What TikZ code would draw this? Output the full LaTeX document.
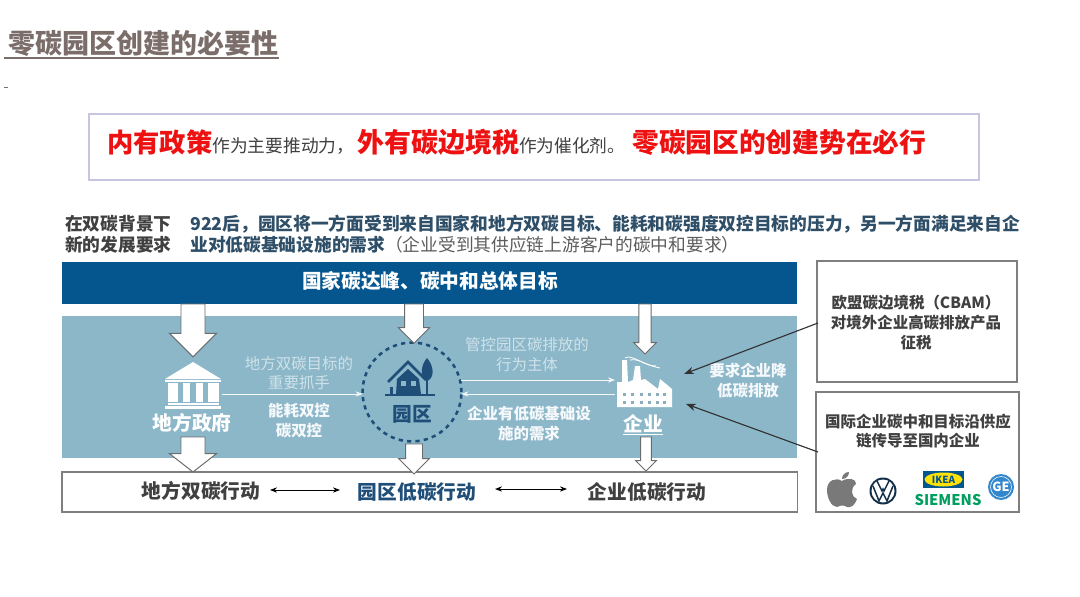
\documentclass[tikz,border=0pt]{standalone}
\usepackage{fontspec}
\setmainfont{Noto Sans CJK SC}
\usepackage{xcolor}
\usetikzlibrary{arrows.meta, positioning, shapes.arrows, calc}

\definecolor{ttlgray}{HTML}{7A6D6A}
\definecolor{txtgray}{HTML}{404040}
\definecolor{subblue}{HTML}{2F4F68}
\definecolor{banblue}{HTML}{05568F}
\definecolor{pnlblue}{HTML}{8BB7C9}
\definecolor{navy}{HTML}{1F4E79}
\definecolor{lightxt}{HTML}{CFE2EA}
\definecolor{hotred}{HTML}{EE1111}
\definecolor{boxgray}{HTML}{7F7F7F}
\definecolor{lavbox}{HTML}{C6C6E0}

\newcommand{\fsz}[2]{\fontsize{#1}{#2}\selectfont}

\begin{document}
\begin{tikzpicture}[
  x=0.025cm, y=-0.025cm,
  node distance=0.1cm and 0.3cm,
  box/.style={rectangle, outer sep=0pt, inner sep=0pt, anchor=north west},
  gbox/.style={box, draw=boxgray, line width=0.8pt, fill=white},
  lbl/.style={inner sep=0pt, align=center, font=\fsz{11}{14}},
  blbl/.style={inner sep=0pt, align=center, font=\fsz{14}{17}\bfseries},
  sublbl/.style={inner sep=0pt, anchor=west, align=left, font=\fsz{12.6}{15}\bfseries},
  bigarr/.style={single arrow, draw=gray!85!black, fill=white, line width=0.7pt,
                 shape border rotate=270, anchor=tail, outer sep=0pt,
                 single arrow head indent=0pt},
  larr/.style={bigarr, inner sep=0.2875cm, single arrow head extend=0.2875cm, minimum height=1.32cm},
  marr/.style={bigarr, inner sep=0.225cm, single arrow head extend=0.15cm, minimum height=0.98cm},
  sarr/.style={bigarr, inner sep=0.14cm, single arrow head extend=0.13cm, minimum height=1.25cm},
  thinw/.style={-{Stealth[length=5pt]}, draw=white!80!lightxt, line width=0.7pt},
  darr/.style={-{Stealth[length=7pt]}, draw=black!80, line width=0.8pt},
  twoarr/.style={{Stealth[length=5pt]}-{Stealth[length=5pt]}, draw=black, line width=0.7pt},
]
\useasboundingbox (0,0) rectangle (1080,597);
\fill[white] (0,0) rectangle (1080,597);

%% ---- Title and headline ----
\node[inner sep=0pt, anchor=west, text=ttlgray, font=\fsz{19.2}{23}\bfseries] (title) at (8,43) {零碳园区创建的必要性};
\coordinate (ulineA) at (4,58);
\coordinate (ulineB) at (279,58);
\draw[ttlgray, line width=1.2pt] (ulineA) -- (ulineB);
\coordinate (tickA) at (4,87);
\coordinate (tickB) at (8,87);
\draw[ttlgray, line width=0.7pt] (tickA) -- (tickB);

\node[box, draw=lavbox, line width=1.4pt, fill=white,
      minimum width=22.25cm, minimum height=1.65cm] (head) at (89,114) {};
\node[inner sep=0pt, anchor=west, font=\fsz{18.7}{23}\bfseries, text=hotred] (headtxt) at (107,142)
  {内有政策{\fsz{12.6}{15}\mdseries\color{txtgray}作为主要推动力，}\hspace{2pt}{\fsz{19.2}{23}外有碳边境税}{\fsz{12.6}{15}\mdseries\color{txtgray}作为催化剂。}\hspace{5pt}{\fsz{19}{23}零碳园区的创建势在必行}};

%% ---- Sub heading ----
\node[sublbl, text=txtgray] (subA) at (65,234.5) {在双碳背景下\\新的发展要求};
\node[sublbl, text=subblue] (subB) at (190,234.5)
  {922后，园区将一方面受到来自国家和地方双碳目标、能耗和碳强度双控目标的压力，另一方面满足来自企\\
   业对低碳基础设施的需求{\mdseries\color{txtgray!85}（企业受到其供应链上游客户的碳中和要求）}};

%% ---- Bands ----
\node[box, fill=banblue, minimum width=18.375cm, minimum height=1.05cm] (band) at (62,262) {};
\node[blbl, text=white] (bandtxt) at (430,281) {国家碳达峰、碳中和总体目标};
\node[box, fill=pnlblue, minimum width=18.375cm, minimum height=3.55cm] (panel) at (62,316) {};
\node[gbox, minimum width=18.375cm, minimum height=1cm] (floor) at (62,472) {};

%% ---- Right side boxes ----
\node[gbox, minimum width=5cm, minimum height=3.025cm] (cbam) at (817,261) {};
\node[gbox, minimum width=5.075cm, minimum height=3cm] (chain) at (816,392) {};
\node[lbl, text=txtgray, font=\fsz{11}{14}\bfseries] (cbamtxt) at (916,322.5) {欧盟碳边境税（CBAM）\\对境外企业高碳排放产品\\征税};
\node[lbl, text=txtgray, font=\fsz{11}{14}\bfseries] (chaintxt) at (918,431) {国际企业碳中和目标沿供应\\链传导至国内企业};

%% ---- Park circle ----
\node[circle, draw=navy, dashed, line width=1.8pt, minimum size=2.47cm, inner sep=0pt, outer sep=0pt] (park) at (412,392) {};
\node[blbl, text=navy] (parktxt) at (412,414) {园区};

%% ---- Block arrows ----
\node[larr] (a1) at (193,304) {};
\node[marr, inner sep=0.225cm] (a2) at (414,304) {};
\node[sarr] (a3) at (645,304) {};
\node[larr, minimum height=0.875cm, single arrow tip angle=104] (a4) at (193,437) {};
\node[marr, inner sep=0.2cm, single arrow head extend=0.175cm, minimum height=0.75cm] (a5) at (414,444) {};
\node[sarr, inner sep=0.12cm, minimum height=0.85cm] (a6) at (646,437) {};

%% ---- Bank icon ----
\fill[white] (193,362) -- (221,379) -- (165,379) -- cycle;
\fill[white] (165,380) rectangle (221,382);
\fill[white] (168,383) rectangle (178,402);
\fill[white] (183,383) rectangle (190,402);
\fill[white] (196,383) rectangle (203,402);
\fill[white] (208,383) rectangle (219,402);
\fill[white] (168,403) rectangle (219,405);
\fill[white] (165,406) rectangle (221,409);
\node[blbl, text=white] (govtxt) at (192,423) {地方政府};
\coordinate (govR) at (222,394);

%% ---- House icon ----
\draw[navy, line width=2pt, line join=miter] (388,382) -- (408,362) -- (426,380);
\fill[navy] (397,379) -- (408,369) -- (419,379) -- (421,394) -- (396,394) -- cycle;
\fill[pnlblue] (401,381) rectangle (406,386);
\fill[pnlblue] (411,381) rectangle (416,386);
\fill[navy] (427,358) .. controls (434,366) and (435,378) .. (427,381) .. controls (420,378) and (420,366) .. (427,358) -- cycle;
\draw[navy, line width=1.2pt] (427,375) -- (427,394);
\fill[navy] (390,387) rectangle (393,394);
\fill[navy] (385,394) rectangle (435,396);

%% ---- Factory icon ----
\fill[white] (617,407) -- (617,382) -- (622,382) -- (622,360) -- (627,360) -- (628,382)
  -- (633,380) -- (635,366) -- (640,366) -- (641,380) -- (645,379) -- (658,389)
  -- (660,379) -- (672,389) -- (672,407) -- cycle;
\foreach \fy in {393,401} {
  \foreach \fx in {623,631,640,648,656,663} {
    \fill[pnlblue!85!gray] (\fx,\fy) rectangle ++(2.5,2.5);
  }
}
\draw[white, line width=0.6pt] (625,358) .. controls (632,354) and (640,364) .. (660,368);
\draw[white, line width=0.6pt] (630,360) .. controls (640,358) and (645,366) .. (656,366);
\node[blbl, text=white] (firmtxt) at (643,425) {\underline{企业}};
\coordinate (firmL) at (615,380);
\coordinate (firmM) at (615,394);
\coordinate (firmA) at (684,374);
\coordinate (firmB) at (686,404);

%% ---- Thin arrows with labels ----
\draw[thinw] (govR) -- (govR -| park.west);
\draw[thinw] (park.east |- firmL) -- (firmL);
\draw[thinw] (firmM) -- (park.east |- firmM);
\node[lbl, text=lightxt] (t1) at (299,373) {地方双碳目标的\\重要抓手};
\node[lbl, text=white!92!pnlblue, font=\fsz{11}{14}\bfseries] (t2) at (299,420.5) {能耗双控\\碳双控};
\node[lbl, text=lightxt] (t3) at (527,354.5) {管控园区碳排放的\\行为主体};
\node[lbl, text=white!92!pnlblue, font=\fsz{11}{14}\bfseries] (t4) at (529,423.5) {企业有低碳基础设\\施的需求};
\node[lbl, text=white!92!pnlblue, font=\fsz{11}{14}\bfseries] (t5) at (748,380.5) {要求企业降\\低碳排放};

%% ---- Dark arrows from right boxes ----
\coordinate (cbamL) at (818,323);
\coordinate (chainL) at (818,452);
\draw[darr] (cbamL) -- (firmA);
\draw[darr] (chainL) -- (firmB);

%% ---- Bottom row ----
\node[blbl, text=txtgray] (act1) at (201,491) {地方双碳行动};
\node[blbl, text=navy] (act2) at (417,492) {园区低碳行动};
\node[blbl, text=txtgray] (act3) at (647,492) {企业低碳行动};
\coordinate (dA) at (270,490);
\coordinate (dB) at (340,490);
\coordinate (dC) at (495,489);
\coordinate (dD) at (567,489);
\draw[twoarr] (dA) -- (dB);
\draw[twoarr] (dC) -- (dD);

%% ---- Logos ----
\fill[gray!95!black] (842,481) .. controls (848,477) and (857,479) .. (856,484)
  .. controls (850,488) and (851,497) .. (857,499) .. controls (855,505) and (851,508) .. (847,507)
  .. controls (844,505) and (841,505) .. (837,507) .. controls (831,507) and (827,497) .. (827,490)
  .. controls (827,480) and (836,477) .. (842,481) -- cycle;
\fill[gray!95!black] (842,479) .. controls (842,475) and (845,472) .. (849,472) .. controls (849,476) and (846,479) .. (842,479) -- cycle;

\fill[black!40!navy] (883,491) circle (13.5);
\fill[white] (883,491) circle (11.5);
\draw[black!40!navy, line width=1.1pt] (877,481) -- (882,491) -- (883,489) -- (884,491) -- (889,481);
\draw[black!40!navy, line width=1.1pt] (873,486) -- (879,501) -- (883,493) -- (887,501) -- (893,486);

\fill[banblue] (923,471) rectangle (964,488);
\fill[yellow!85!orange] (943.5,479.5) ellipse (19 and 7);
\node[inner sep=0pt, text=banblue, font=\fsz{7}{8}\bfseries] (ikea) at (943.5,479.5) {IKEA};
\node[inner sep=0pt, text=teal!75!green, font=\fsz{10.5}{12}\bfseries] (siemens) at (948,500) {SIEMENS};

\fill[blue!45!cyan!60!gray] (1001,487) circle (13);
\draw[white, line width=0.4pt] (1001,487) circle (10.5);
\node[inner sep=0pt, text=white, font=\fsz{9}{10}\bfseries\itshape] (ge) at (1001,487) {GE};

\end{tikzpicture}
\end{document}
